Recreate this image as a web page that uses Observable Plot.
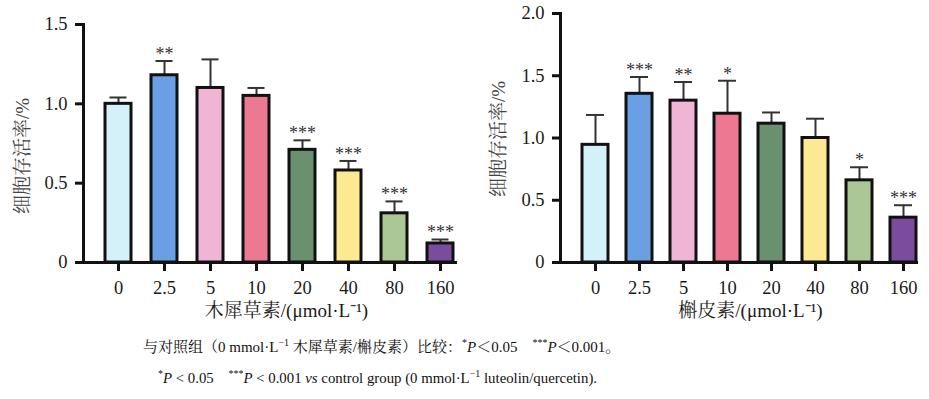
<!DOCTYPE html>
<html>
<head>
<meta charset="utf-8">
<script src="https://cdn.jsdelivr.net/npm/d3@7"></script>
<script src="https://cdn.jsdelivr.net/npm/@observablehq/plot@0.6"></script>
<style>
  html, body { margin: 0; padding: 0; background: #fff; }
  #wrap { position: relative; width: 929px; height: 399px; overflow: hidden; }
  .panel { position: absolute; top: 0; }
  .cap { position: absolute; white-space: nowrap;
         font-family: "Liberation Serif", "Noto Serif CJK SC", serif; color: #111; line-height: 20px; }
  .cap sup { font-size: 10px; vertical-align: 6px; line-height: 0; }
  .ytitle { position: absolute; white-space: nowrap; font-family: "Liberation Serif", "Noto Serif CJK SC", serif;
            font-size: 19px; line-height: 19px; color: #444; transform: translate(-50%, -50%) rotate(-90deg); }
</style>
</head>
<body>
<div id="wrap">
  <div class="panel" id="left" style="left:0px"></div>
  <div class="panel" id="right" style="left:465px"></div>
  <div class="ytitle" id="ytl" style="left:22px;top:156px"></div>
  <div class="ytitle" id="ytr" style="left:498px;top:139px"></div>
  <div class="cap" style="top:337px;left:143px;font-size:15px">与对照组（0 mmol·L<sup>−1</sup> 木犀草素/槲皮素）比较：<sup>*</sup><i>P</i>＜0.05&nbsp;&nbsp;&nbsp;&nbsp;<sup>***</sup><i>P</i>＜0.001。</div>
  <div class="cap" style="top:368px;left:158px;font-size:14.8px"><sup>*</sup><i>P</i> &lt; 0.05&nbsp;&nbsp;&nbsp;&nbsp;<sup>***</sup><i>P</i> &lt; 0.001 <i>vs</i> control group (0 mmol·L<sup>−1</sup> luteolin/quercetin).</div>
</div>
<script>
const doses = ["0", "2.5", "5", "10", "20", "40", "80", "160"];
const barColors = ["#d4f1fa", "#6aa0e3", "#f0b4d4", "#ec7892", "#6b9070", "#fde991", "#aac795", "#7b4b9d"];

const luteolinMean = [1.00, 1.18, 1.10, 1.05, 0.71, 0.58, 0.31, 0.12];
const luteolinErr  = [0.04, 0.09, 0.18, 0.05, 0.06, 0.06, 0.075, 0.025];
const luteolinSig  = ["", "**", "", "", "***", "***", "***", "***"];

const quercetinMean = [0.945, 1.355, 1.30, 1.195, 1.115, 1.00, 0.66, 0.36];
const quercetinErr  = [0.24, 0.135, 0.15, 0.265, 0.09, 0.155, 0.105, 0.10];
const quercetinSig  = ["", "***", "**", "*", "", "", "*", "***"];

const leftTicks = [0, 0.5, 1.0, 1.5];
const rightTicks = [0, 0.5, 1.0, 1.5, 2.0];
const yTitle = "细胞存活率/%";
const leftXTitle = "木犀草素/(μmol·L⁻¹)";
const rightXTitle = "槲皮素/(μmol·L⁻¹)";

document.getElementById("ytl").textContent = yTitle;
document.getElementById("ytr").textContent = yTitle;

function rows(mean, err, sig) {
  return doses.map((d, i) => ({dose: d, mean: mean[i], top: mean[i] + err[i], sig: sig[i], color: barColors[i]}));
}

const FONT = "Liberation Serif, Noto Serif CJK SC, serif";

function panel({data, width, marginLeft, marginRight, marginTop, xRange, yMax, ticks, pi, po, xTitle, titleDx, capInset}) {
  return Plot.plot({
    width, height: 330,
    marginLeft, marginRight, marginTop, marginBottom: 68,
    style: {fontFamily: FONT, fontSize: "18px", color: "#1a1a1a", background: "transparent", overflow: "visible"},
    x: {domain: doses, range: xRange, paddingInner: pi, paddingOuter: po},
    y: {domain: [0, yMax]},
    color: {type: "identity"},
    marks: [
      Plot.ruleX(data, {x: "dose", y1: "mean", y2: "top", stroke: "#333", strokeWidth: 2}),
      Plot.tickY(data, {x: "dose", y: "top", stroke: "#333", strokeWidth: 2, insetLeft: capInset, insetRight: capInset}),
      Plot.barY(data, {x: "dose", y: "mean", fill: "color", stroke: "#111", strokeWidth: 3}),
      Plot.text(data.filter(d => d.sig), {x: "dose", y: "top", text: "sig", lineAnchor: "bottom", dy: -1, fontSize: 18, fontFamily: FONT, fill: "#333"}),
      Plot.frame({anchor: "left", stroke: "#111", strokeWidth: 3}),
      Plot.ruleY([0], {stroke: "#111", strokeWidth: 3}),
      Plot.axisY({ticks, tickSize: 8, tickPadding: 8, strokeWidth: 3, stroke: "#111", label: null, fontSize: 18.5, fontFamily: FONT,
        tickFormat: d => d === 0 ? "0" : d.toFixed(1)}),
      Plot.axisX({tickSize: 9, tickPadding: 9, strokeWidth: 3, stroke: "#111", label: null, fontSize: 18.5, fontFamily: FONT}),
      Plot.text([xTitle], {frameAnchor: "bottom", dx: titleDx, dy: 48, lineAnchor: "middle", fontSize: 19, fontFamily: FONT, fill: "#1a1a1a"})
    ]
  });
}

document.getElementById("left").append(panel({
  data: rows(luteolinMean, luteolinErr, luteolinSig),
  width: 465, marginLeft: 83, marginRight: 8, marginTop: 24,
  xRange: [83, 475], yMax: 1.5, ticks: leftTicks, pi: 0.424, po: 0.394,
  xTitle: leftXTitle, titleDx: 16, capInset: 4.5
}));

document.getElementById("right").append(panel({
  data: rows(quercetinMean, quercetinErr, quercetinSig),
  width: 464, marginLeft: 95, marginRight: 11, marginTop: 13,
  xRange: [95, 473], yMax: 2.0, ticks: rightTicks, pi: 0.4166, po: 0.4487,
  xTitle: rightXTitle, titleDx: 11, capInset: 4
}));
</script>
</body>
</html>
